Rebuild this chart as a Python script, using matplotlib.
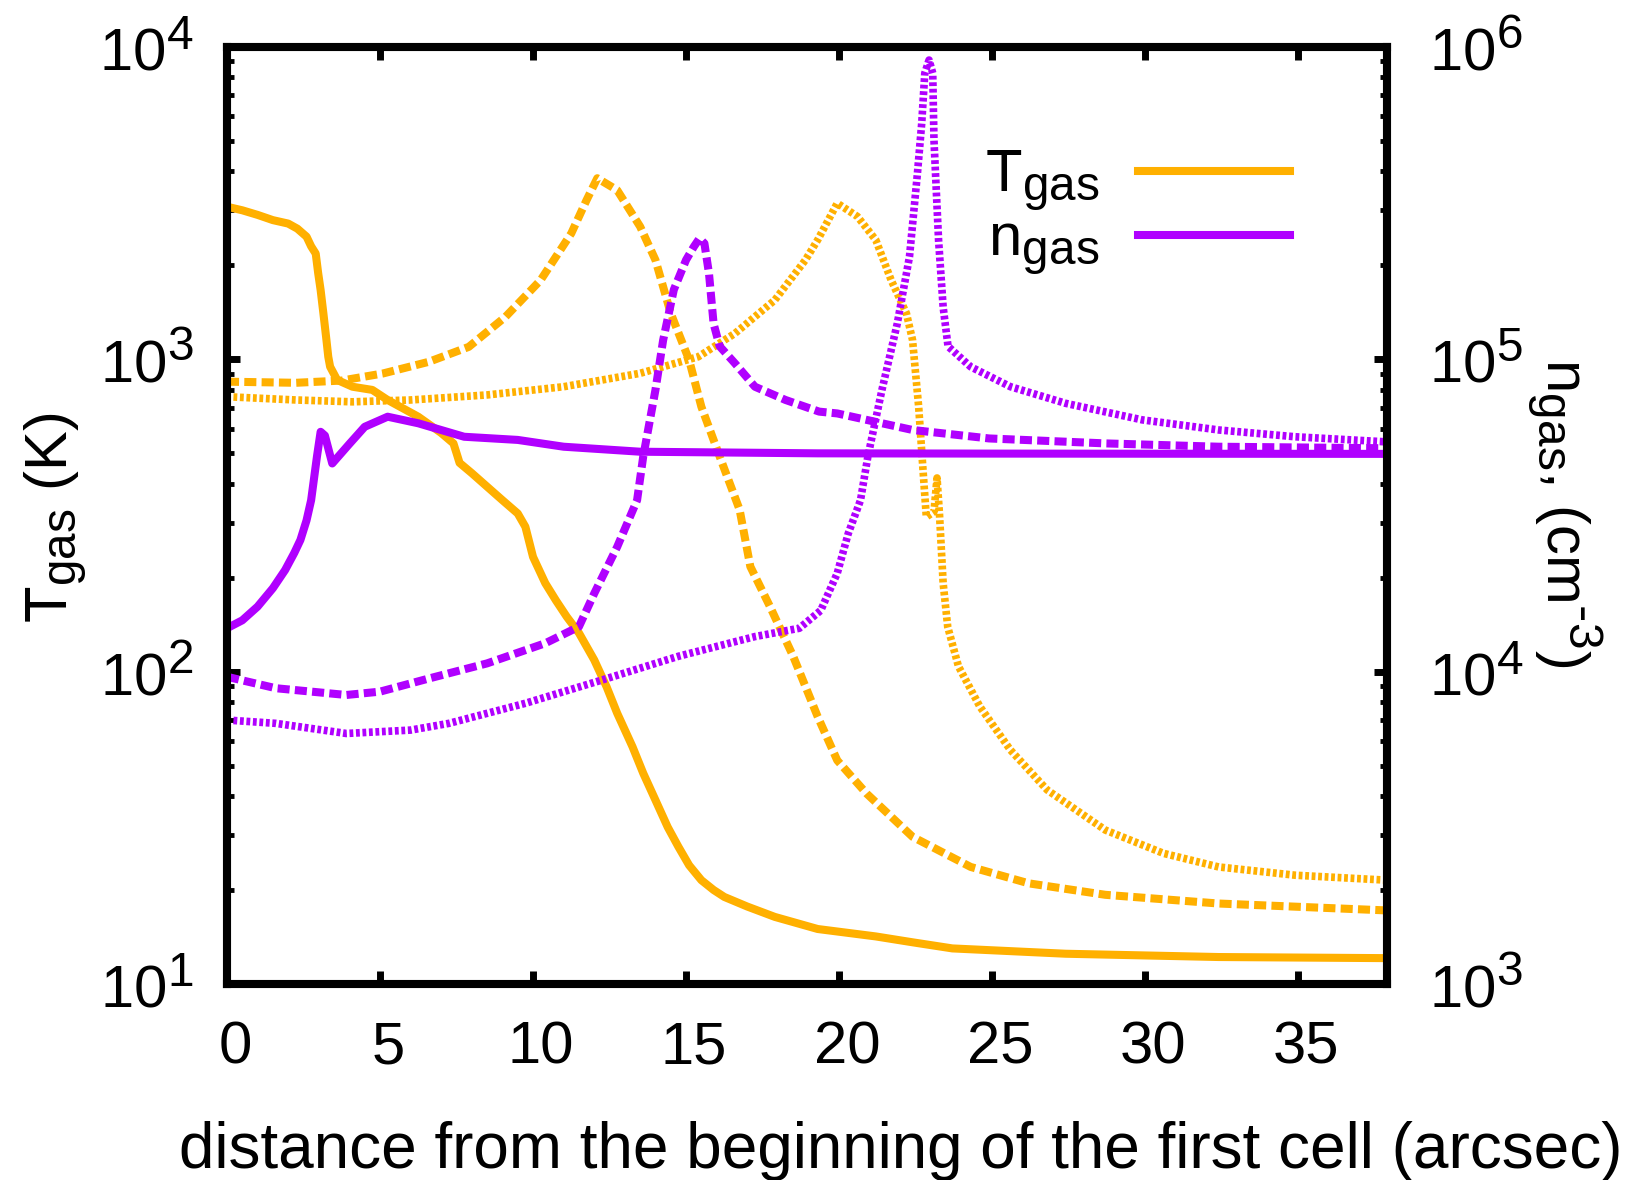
import matplotlib
matplotlib.use("Agg")
import matplotlib.pyplot as plt
import matplotlib._mathtext as mathtext_core
from matplotlib.ticker import MultipleLocator
from matplotlib.transforms import ScaledTranslation

plt.rcParams['font.family'] = ['Liberation Sans', 'DejaVu Sans']
plt.rcParams['mathtext.default'] = 'regular'
# gnuplot-like sub/superscripts are larger than matplotlib's default 0.7
mathtext_core.SHRINK_FACTOR = 0.8

ORANGE = '#ffb000'
PURPLE = '#b000ff'

# model 1: solid lines
x_T1 = [0, 0.5, 1.0, 1.5, 2.0, 2.3, 2.6, 2.75, 2.9, 2.98, 3.06, 3.15, 3.25, 3.31, 3.37,
        3.6, 4.1, 4.75, 5.25, 6.25, 7.0, 7.4, 7.5, 7.6, 8.0, 8.5, 9.0, 9.5, 9.75, 10.0,
        10.4, 10.75, 11.1, 11.5, 12.0, 12.4, 12.75, 13.25, 13.6, 14.0, 14.4, 14.75,
        15.1, 15.5, 15.9, 16.25, 17.0, 17.9, 19.3, 21.2, 22.4, 23.7, 27.4, 32.4, 37.9]
T1 = [3080, 3000, 2900, 2790, 2720, 2620, 2470, 2300, 2180, 1888, 1667, 1405, 1153, 1019,
      947, 859, 817, 798, 741, 655, 581, 538, 501, 466, 432, 391, 354, 321, 291, 233,
      192, 169, 150, 133, 109, 89.6, 73.6, 57.5, 47.3, 38.8, 31.8, 27.5,
      24.0, 21.5, 20.0, 19.0, 17.7, 16.4, 15.0, 14.2, 13.6, 13.0, 12.5, 12.2, 12.1]
x_n1 = [0, 0.5, 1.0, 1.5, 1.9, 2.2, 2.4, 2.6, 2.75, 2.94, 3.06, 3.2, 3.44, 4.0, 4.5,
        5.25, 6.25, 7.75, 9.5, 11, 13.5, 19.3, 25, 37.9]
n1 = [13770, 14600, 16150, 18500, 21150, 24000, 26400, 30500, 35400, 48800, 58600, 57000,
      46400, 53600, 60800, 65500, 62400, 56500, 55200, 52500, 50600, 50000, 49900, 49800]

# model 2: dashed lines
x_T2 = [0, 2.25, 3.75, 5.1, 6.6, 7.9, 9.1, 10.25, 11.25, 11.75, 12.1, 12.75, 13.5, 14.0,
        14.5, 15.1, 15.5, 16.1, 16.75, 17.1, 17.75, 18.5, 19.3, 19.94, 20.9, 22.4, 24.3,
        26.2, 28.7, 32.4, 37.9]
T2 = [848, 841, 855, 901, 982, 1096, 1368, 1794, 2531, 3235, 3800, 3480, 2660, 2080,
      1403, 995, 705, 488, 330, 217, 161, 112, 71.8, 52, 40.7, 29.6, 23.7,
      21.0, 19.3, 18.1, 17.2]
x_n2 = [0, 1.6, 3.9, 5.0, 6.6, 8.5, 10.4, 11.5, 12.0, 12.75, 13.4, 13.6, 14.0, 14.25,
        14.6, 15.0, 15.25, 15.44, 15.6, 15.75, 15.9, 16.1, 16.6, 17.25, 18.25, 19.35,
        19.94, 22.4, 24.9, 28.7, 32.4, 37.9]
n2 = [9630, 8850, 8420, 8630, 9510, 10630, 12330, 13930, 17800, 25100, 35400, 48800,
      79800, 115000, 167000, 208000, 229000, 244000, 235000, 188000, 130000, 110000,
      97000, 81700, 74100, 68000, 67100, 59400, 55800, 53800, 52500, 51900]

# model 3: dotted lines
x_T3 = [0, 2.25, 4.1, 6.0, 8.5, 11.0, 13.5, 15.4, 16.6, 17.9, 18.9, 19.3, 19.94, 20.6,
        21.2, 21.7, 22.2, 22.4, 22.6, 22.75, 22.85, 23.1, 23.2, 23.28, 23.4, 23.55, 23.9,
        24.6, 25.6, 26.8, 28.7, 30.6, 32.4, 34.9, 37.9]
T3 = [759, 741, 731, 741, 769, 817, 902, 1019, 1211, 1548, 2080, 2410, 3160, 2865,
      2410, 1794, 1403, 1153, 705, 431, 313, 325, 417, 320, 192, 139, 104,
      77.3, 56.1, 41.8, 31.1, 26.2, 23.7, 22.3, 21.5]
x_n3 = [0, 1.6, 3.9, 6.0, 7.25, 9.75, 12.25, 14.75, 17.25, 18.7, 19.4, 19.94, 20.3, 20.7,
        20.94, 21.4, 21.9, 22.3, 22.56, 22.7, 22.8, 22.94, 23.06, 23.1, 23.25, 23.4,
        23.56, 24.3, 25.6, 27.4, 29.9, 32.4, 34.9, 37.9]
n3 = [7000, 6830, 6340, 6500, 6830, 7920, 9400, 11200, 12950, 13770, 15700, 20650, 27700,
      35400, 48800, 79800, 130000, 213000, 394000, 570000, 824000, 908000, 824000,
      504000, 241000, 147000, 110000, 94600, 81700, 72300, 64000, 59400, 56500, 54400]

LW = 5.8
DASHED = (0, (1.5, 0.65))
DOTTED = (0, (0.5, 0.35))

fig = plt.figure(figsize=(16.34, 11.8), dpi=100)
ax = fig.add_axes([0.1389, 0.1661, 0.7099, 0.7941])
ax2 = ax.twinx()

lT, = ax.plot(x_T1, T1, color=ORANGE, lw=LW, solid_joinstyle='round')
ax.plot(x_T2, T2, color=ORANGE, lw=LW, ls=DASHED)
ax.plot(x_T3, T3, color=ORANGE, lw=5.5, ls=DOTTED)
ln, = ax2.plot(x_n1, n1, color=PURPLE, lw=LW, solid_joinstyle='round')
ax2.plot(x_n2, n2, color=PURPLE, lw=LW, ls=DASHED)
ax2.plot(x_n3, n3, color=PURPLE, lw=5.5, ls=DOTTED)

ax.set_xlim(0, 37.9)
ax.set_yscale('log')
ax.set_ylim(10, 1e4)
ax2.set_yscale('log')
ax2.set_ylim(1e3, 1e6)
ax.xaxis.set_major_locator(MultipleLocator(5))

for a in (ax, ax2):
    for s in a.spines.values():
        s.set_linewidth(5.8)
    a.tick_params(which='both', direction='in', labelsize=43)
    a.tick_params(which='major', length=9.5, width=5)
    a.tick_params(which='minor', length=5, width=3.5)
ax.tick_params(axis='x', top=True, pad=26)
ax.tick_params(axis='y', which='both', right=False, pad=24)
ax2.tick_params(axis='y', which='both', pad=30)

# x tick labels sit a little right of their ticks
shift = ScaledTranslation(0.08, 0, fig.dpi_scale_trans)
for lab in ax.get_xticklabels():
    lab.set_transform(lab.get_transform() + shift)

ax.text(-0.148, 0.497, r'T$_{gas}$ (K)', transform=ax.transAxes, rotation=90,
        ha='center', va='center', fontsize=43)
ax.text(1.153, 0.503, r'n$_{gas}$, (cm$^{\text{-}3}$)', transform=ax.transAxes,
        rotation=-90, ha='center', va='center', fontsize=43)
fig.text(0.551, 0.0102, 'distance from the beginning of the first cell (arcsec)',
         ha='center', va='baseline', fontsize=46)

ax2.legend([lT, ln], [r'T$_{gas}$', r'n$_{gas}$'], loc='center',
           bbox_to_anchor=(0.785, 0.823), markerfirst=False, frameon=False,
           fontsize=43, handlelength=2.55, handletextpad=0.65, labelspacing=0.0,
           borderpad=0)

fig.savefig('out.png', dpi=100)
